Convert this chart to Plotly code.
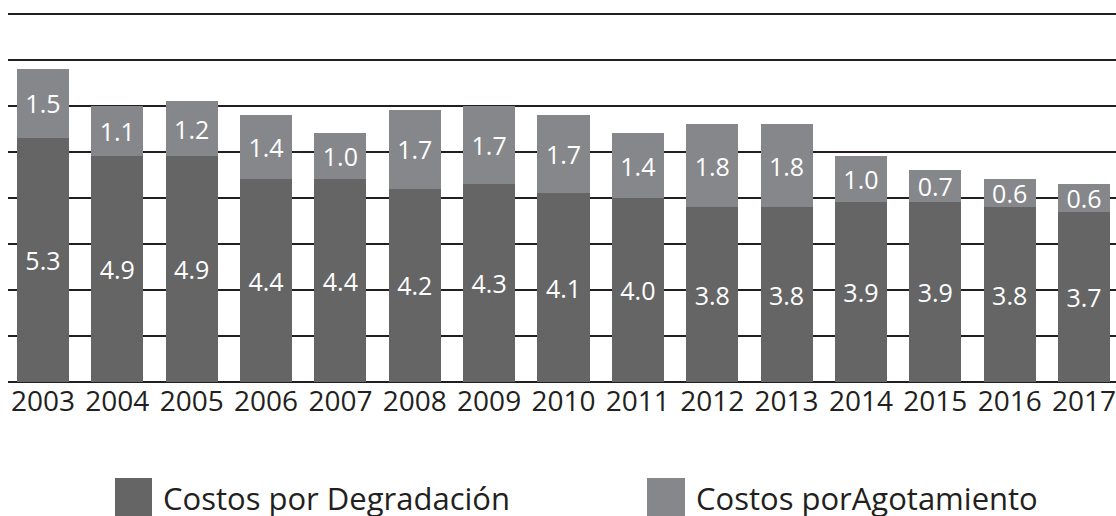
import plotly.graph_objects as go

years = ["2003", "2004", "2005", "2006", "2007", "2008", "2009", "2010",
         "2011", "2012", "2013", "2014", "2015", "2016", "2017"]
degradacion = [5.3, 4.9, 4.9, 4.4, 4.4, 4.2, 4.3, 4.1, 4.0, 3.8, 3.8, 3.9, 3.9, 3.8, 3.7]
agotamiento = [1.5, 1.1, 1.2, 1.4, 1.0, 1.7, 1.7, 1.7, 1.4, 1.8, 1.8, 1.0, 0.7, 0.6, 0.6]
series_names = ["Costos por Degradación", "Costos porAgotamiento"]

DARK = "#656566"
LIGHT = "#86878b"
FONT = "Open Sans"

fig = go.Figure()
for name, vals, col in [(series_names[0], degradacion, DARK),
                        (series_names[1], agotamiento, LIGHT)]:
    fig.add_trace(go.Bar(
        x=years, y=vals, name=name, marker=dict(color=col, line=dict(width=0)),
        text=[f"{v:.1f}" for v in vals], textposition="inside",
        insidetextanchor="middle", textangle=0, constraintext="none",
        textfont=dict(family=FONT, size=25, color="white"),
        hoverinfo="skip", showlegend=False,
    ))

W, H = 1116, 516
ml, mr, mt, mb = 8, 0, 9, 134
pw, ph = W - ml - mr, H - mt - mb

def px(x):
    return (x - ml) / pw

def py(y):
    return (H - mb - y) / ph

shapes = []
annotations = []
legend_pos = [(115, 152, 161), (647, 685, 694)]
for (x0, x1, tx), name, col in zip(legend_pos, series_names, [DARK, LIGHT]):
    shapes.append(dict(type="rect", xref="paper", yref="paper",
                       x0=px(x0), x1=px(x1), y0=py(478), y1=py(530),
                       fillcolor=col, line=dict(width=0), layer="above"))
    annotations.append(dict(text=name, xref="paper", yref="paper",
                            x=px(tx), y=py(498), xanchor="left", yanchor="middle",
                            showarrow=False,
                            font=dict(family=FONT, size=31, color="#231f20")))

fig.update_layout(
    width=W, height=H,
    margin=dict(l=ml, r=mr, t=mt, b=mb),
    barmode="stack", bargap=0.3,
    plot_bgcolor="white", paper_bgcolor="white",
    shapes=shapes, annotations=annotations,
    xaxis=dict(range=[-0.47, 14.43], showgrid=False, showline=False,
               ticks="", tickfont=dict(family=FONT, size=28, color="#231f20"),
               ticklabelstandoff=0),
    yaxis=dict(range=[0, 8.1], dtick=1, showgrid=True, gridcolor="#231f20",
               gridwidth=1.5, zeroline=True, zerolinecolor="#231f20",
               zerolinewidth=2, showticklabels=False, ticks=""),
    showlegend=False,
)

fig.write_html(
    "out.html",
    config={"displayModeBar": False},
    post_script="document.body.style.margin='0';document.body.style.overflow='hidden';",
)
